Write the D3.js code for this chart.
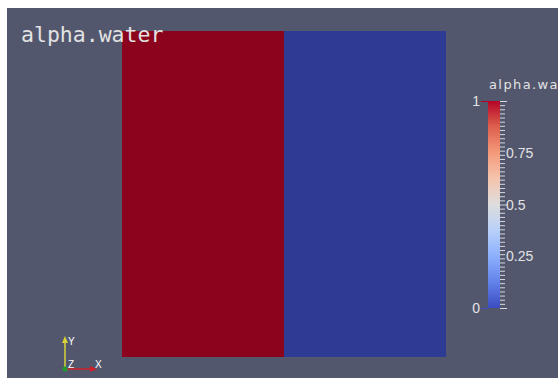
<!doctype html>
<html>
<head>
<script src="https://d3js.org/d3.v7.min.js"></script>
<style>
body { margin: 0; background: #fff; }
</style>
</head>
<body>
<svg width="559" height="378" id="view"></svg>
<script>
// field values of the two cells (left, right)
var cells = ["left", "right"];
var alphaWater = [1, 0];
var barTicks = [0, 0.25, 0.5, 0.75, 1];
var barLabels = ["0", "0.25", "0.5", "0.75", "1"];
var fieldName = "alpha.water";
// cool to warm colour map control points
var mapStops = [0, 0.125, 0.25, 0.375, 0.5, 0.625, 0.75, 0.875, 1];
var mapColors = ["#3b4cc0", "#6282ea", "#8db0fe", "#b8d0f9", "#dddddd",
                 "#f5c4ad", "#f49a7b", "#de604d", "#b40426"];

var svg = d3.select("#view");

// viewport clip + background
svg.append("defs").append("clipPath").attr("id", "vp")
  .append("rect").attr("x", 7).attr("y", 8).attr("width", 551).attr("height", 370);
var vp = svg.append("g").attr("clip-path", "url(#vp)");

vp.append("rect")
  .attr("x", 7).attr("y", 8)
  .attr("width", 551).attr("height", 370)
  .style("fill", "#52576e");

var color = d3.scaleLinear()
  .domain(mapStops)
  .range(mapColors)
  .interpolate(d3.interpolateRgb);

function shaded(v) {
  var c = d3.rgb(color(v));
  var k = 0.77;
  return d3.rgb(c.r * k, c.g * k, c.b * k).toString();
}

var x = d3.scaleBand().domain(cells).range([122, 446]).padding(0);
var y = d3.scaleLinear().domain([0, 1]).range([357, 31]);

vp.append("g").selectAll("rect")
  .data(cells)
  .join("rect")
  .attr("x", function(d) { return x(d); })
  .attr("y", y(1))
  .attr("width", x.bandwidth())
  .attr("height", y(0) - y(1))
  .style("fill", function(d, i) { return shaded(alphaWater[i]); });

// title text
vp.append("text")
  .attr("x", 21).attr("y", 42)
  .style("font-family", "DejaVu Sans Mono")
  .style("font-size", "21.5px")
  .style("fill", "#e2e2e2")
  .text(fieldName);

// color legend
var ly = d3.scaleLinear().domain([0, 1]).range([308, 101]);
var grad = svg.select("defs").append("linearGradient")
  .attr("id", "cbar").attr("x1", 0).attr("y1", 1).attr("x2", 0).attr("y2", 0);
mapStops.forEach(function(t, i) {
  grad.append("stop").attr("offset", t).attr("stop-color", mapColors[i]);
});
vp.append("rect")
  .attr("x", 488).attr("y", ly(1))
  .attr("width", 12).attr("height", ly(0) - ly(1))
  .style("fill", "url(#cbar)");

vp.append("g").selectAll("line")
  .data(ly.ticks(40))
  .join("line")
  .attr("x1", 500)
  .attr("x2", function(d) { return Math.abs(d * 4 - Math.round(d * 4)) < 1e-6 ? 507 : 505; })
  .attr("y1", function(d) { return ly(d) + 0.5; })
  .attr("y2", function(d) { return ly(d) + 0.5; })
  .style("stroke", "#d8d8d8")
  .style("stroke-width", 1);

vp.append("g").selectAll("text")
  .data(barTicks)
  .join("text")
  .attr("x", function(d) { return (d === 0 || d === 1) ? 480 : 506; })
  .attr("y", function(d) { return ly(d) + 5; })
  .attr("text-anchor", function(d) { return (d === 0 || d === 1) ? "end" : "start"; })
  .style("font-family", "Liberation Sans")
  .style("font-size", "14px")
  .style("fill", "#e2e2e2")
  .text(function(d, i) { return barLabels[i]; });

// small end marks beside 0 and 1
vp.append("g").selectAll("line")
  .data([0, 1])
  .join("line")
  .attr("x1", 481).attr("x2", 488)
  .attr("y1", function(d) { return ly(d) + 0.5; })
  .attr("y2", function(d) { return ly(d) + 0.5; })
  .style("stroke", function(d) { return color(d); })
  .style("stroke-width", 1);

vp.append("text")
  .attr("x", 489).attr("y", 89)
  .style("font-family", "DejaVu Sans")
  .style("font-size", "13px")
  .style("letter-spacing", "1.4px")
  .style("fill", "#e2e2e2")
  .text(fieldName);

// orientation axes
var ox = 65, oy = 369;
var tri = vp.append("g");
tri.append("line").attr("x1", ox).attr("y1", oy).attr("x2", ox).attr("y2", 343)
  .style("stroke", "#d8d23a").style("stroke-width", 1.5);
tri.append("path").attr("d", "M" + (ox - 3) + ",343 L" + ox + ",336 L" + (ox + 3) + ",343 Z")
  .style("fill", "#d8d23a");
tri.append("line").attr("x1", ox).attr("y1", oy).attr("x2", 90).attr("y2", oy)
  .style("stroke", "#d0202a").style("stroke-width", 1.5);
tri.append("path").attr("d", "M90," + (oy - 3) + " L97," + oy + " L90," + (oy + 3) + " Z")
  .style("fill", "#d0202a");
tri.append("circle").attr("cx", ox).attr("cy", oy).attr("r", 2.5).style("fill", "#1f9a30");
[["Y", 68, 345], ["Z", 68, 368], ["X", 95, 368]].forEach(function(l) {
  tri.append("text").attr("x", l[1]).attr("y", l[2])
    .style("font-family", "Liberation Sans")
    .style("font-size", "10px")
    .style("fill", "#ffffff")
    .text(l[0]);
});
</script>
</body>
</html>
